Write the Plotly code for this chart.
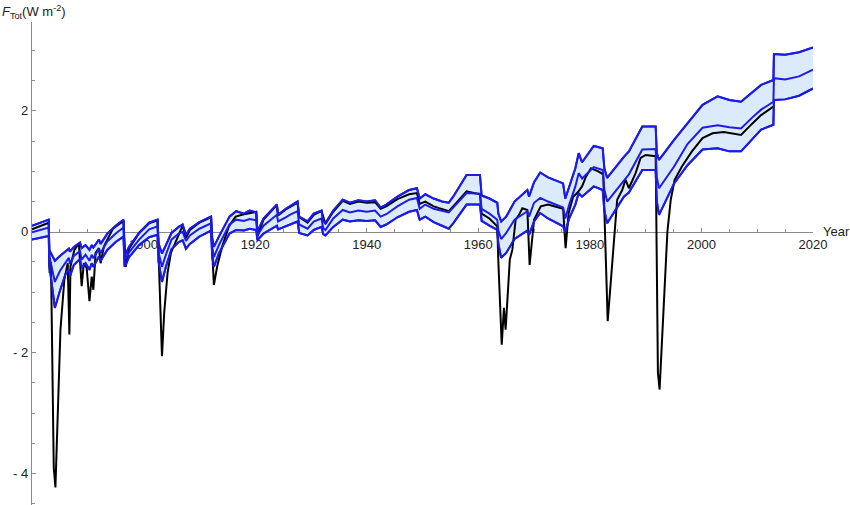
import plotly.graph_objects as go

# ---------------- data ----------------
years_band = [
    1880.0, 1881.5, 1883.0, 1883.1, 1884.1, 1885.0, 1886.0, 1886.6, 1886.8, 1887.5,
    1888.6, 1888.9, 1889.6, 1890.3, 1890.7, 1891.0, 1892.0, 1892.3, 1893.5, 1895.0,
    1896.4, 1896.6, 1897.4, 1899.2, 1901.0, 1902.5, 1902.7, 1903.3, 1904.0, 1905.0,
    1906.3, 1907.0, 1907.6, 1908.3, 1910.0, 1912.1, 1912.3, 1912.6, 1913.5, 1915.4,
    1916.6, 1918.0, 1919.0, 1920.2, 1920.4, 1921.5, 1923.9, 1924.1, 1925.5, 1926.2,
    1927.6, 1927.9, 1929.4, 1930.5, 1931.9, 1932.2, 1932.6, 1934.0, 1935.7, 1937.0,
    1938.5, 1940.0, 1941.5, 1942.5, 1943.5, 1945.5, 1947.6, 1949.0, 1949.5, 1950.5,
    1952.0, 1953.5, 1954.7, 1955.5, 1957.9, 1960.3, 1960.6, 1962.0, 1963.4, 1963.6,
    1964.1, 1965.0, 1966.5, 1968.8, 1969.1, 1970.0, 1971.1, 1972.5, 1975.2, 1975.6,
    1976.3, 1977.4, 1978.0, 1978.6, 1980.7, 1982.3, 1982.6, 1983.1, 1986.1, 1987.0,
    1989.4, 1991.8, 1992.0, 1992.4, 1995.1, 1997.5, 2000.2, 2002.9, 2005.0, 2007.1,
    2009.0, 2010.7, 2012.9, 2013.0, 2015.0, 2017.5, 2020.0,
]
upper = [
    0.10, 0.15, 0.20, -0.30, -0.48, -0.40, -0.32, -0.28, -0.33, -0.25,
    -0.18, -0.27, -0.22, -0.30, -0.22, -0.26, -0.13, -0.20, -0.03, 0.10,
    0.20, -0.40, -0.25, -0.02, 0.15, 0.20, -0.20, -0.36, -0.22, -0.02,
    0.08, 0.12, -0.05, 0.05, 0.16, 0.25, -0.10, -0.25, -0.08, 0.25,
    0.34, 0.30, 0.35, 0.32, 0.00, 0.22, 0.45, 0.28, 0.38, 0.42,
    0.50, 0.25, 0.17, 0.30, 0.35, 0.18, 0.14, 0.35, 0.53, 0.48,
    0.52, 0.50, 0.52, 0.40, 0.45, 0.58, 0.69, 0.72, 0.55, 0.62,
    0.55, 0.50, 0.48, 0.58, 0.94, 0.94, 0.60, 0.55, 0.48, 0.30,
    0.17, 0.25, 0.50, 0.69, 0.58, 0.82, 0.98, 0.90, 0.80, 0.55,
    0.75, 1.05, 1.30, 1.15, 1.42, 1.38, 1.05, 0.89, 1.24, 1.33,
    1.74, 1.74, 1.30, 1.19, 1.52, 1.80, 2.10, 2.24, 2.18, 2.15,
    2.30, 2.43, 2.51, 2.94, 2.93, 2.97, 3.05,
]
middle = [
    -0.01, 0.03, 0.07, -0.40, -0.83, -0.65, -0.50, -0.43, -0.53, -0.40,
    -0.32, -0.46, -0.38, -0.48, -0.38, -0.44, -0.28, -0.35, -0.16, -0.03,
    0.07, -0.48, -0.34, -0.13, 0.04, 0.09, -0.35, -0.58, -0.38, -0.13,
    -0.03, 0.00, -0.15, -0.06, 0.05, 0.14, -0.25, -0.42, -0.22, 0.12,
    0.20, 0.18, 0.21, 0.19, -0.06, 0.10, 0.28, 0.17, 0.24, 0.28,
    0.34, 0.12, 0.05, 0.17, 0.22, 0.06, 0.03, 0.22, 0.36, 0.32,
    0.35, 0.33, 0.35, 0.25, 0.29, 0.42, 0.53, 0.56, 0.38, 0.45,
    0.38, 0.34, 0.32, 0.40, 0.64, 0.63, 0.38, 0.30, 0.20, 0.02,
    -0.12, -0.02, 0.20, 0.34, 0.25, 0.48, 0.56, 0.50, 0.40, 0.22,
    0.45, 0.75, 0.97, 0.88, 1.07, 1.02, 0.70, 0.50, 0.86, 0.95,
    1.36, 1.37, 0.90, 0.72, 1.08, 1.45, 1.72, 1.76, 1.73, 1.71,
    1.88, 2.02, 2.15, 2.54, 2.52, 2.57, 2.68,
]
lower = [
    -0.13, -0.10, -0.07, -0.55, -1.26, -0.98, -0.70, -0.62, -0.74, -0.55,
    -0.45, -0.60, -0.52, -0.63, -0.52, -0.58, -0.41, -0.48, -0.30, -0.17,
    -0.08, -0.58, -0.42, -0.22, -0.09, -0.05, -0.50, -0.83, -0.58, -0.29,
    -0.17, -0.14, -0.28, -0.20, -0.08, 0.02, -0.40, -0.58, -0.36, -0.03,
    0.03, 0.02, 0.05, 0.03, -0.14, -0.03, 0.10, 0.04, 0.09, 0.12,
    0.17, -0.02, -0.06, 0.03, 0.08, -0.04, -0.06, 0.08, 0.20, 0.17,
    0.19, 0.18, 0.19, 0.08, 0.12, 0.24, 0.33, 0.36, 0.20, 0.25,
    0.16, 0.10, 0.05, 0.14, 0.45, 0.45, 0.18, 0.10, 0.03, -0.20,
    -0.43, -0.35, -0.12, 0.02, -0.05, 0.17, 0.31, 0.22, 0.09, 0.00,
    0.22, 0.45, 0.64, 0.58, 0.75, 0.69, 0.35, 0.14, 0.58, 0.65,
    1.02, 1.02, 0.50, 0.28, 0.80, 1.10, 1.36, 1.38, 1.33, 1.33,
    1.52, 1.69, 1.77, 2.18, 2.19, 2.25, 2.37,
]

years_total = [
    1880.0, 1883.0, 1883.15, 1883.4, 1883.9, 1884.2, 1885.1, 1885.8, 1886.4, 1886.7,
    1886.9, 1887.6, 1888.4, 1888.9, 1889.3, 1889.8, 1890.3, 1890.7, 1891.0, 1891.4,
    1892.0, 1892.3, 1892.9, 1894.5, 1896.4, 1896.8, 1897.4, 1899.2, 1901.0, 1902.5,
    1902.7, 1903.3, 1903.7, 1904.3, 1904.9, 1906.1, 1907.0, 1907.6, 1908.3, 1910.0,
    1912.1, 1912.3, 1912.6, 1913.2, 1914.1, 1915.3, 1916.5, 1918.0, 1920.2, 1920.4,
    1921.5, 1923.9, 1924.1, 1925.5, 1927.6, 1927.9, 1929.4, 1930.5, 1931.9, 1932.6,
    1934.0, 1935.7, 1937.0, 1938.5, 1940.0, 1941.5, 1942.5, 1943.5, 1945.5, 1947.6,
    1949.0, 1949.5, 1950.5, 1952.0, 1953.5, 1954.7, 1955.5, 1957.9, 1960.3, 1960.6,
    1962.0, 1963.4, 1963.6, 1964.2, 1964.6, 1964.9, 1965.65, 1966.1, 1966.7, 1967.3,
    1967.9, 1968.8, 1969.2, 1970.0, 1971.2, 1972.5, 1975.2, 1975.65, 1976.2, 1977.0,
    1977.8, 1978.6, 1979.3, 1980.2, 1981.5, 1982.4, 1983.2, 1984.4, 1984.9, 1985.8,
    1986.4, 1987.0, 1988.2, 1989.1, 1990.0, 1991.8, 1992.2, 1992.5, 1993.3, 1993.9,
    1994.5, 1995.2, 1996.5, 1998.3, 2000.2, 2002.0, 2004.0, 2007.1, 2009.0, 2010.7,
    2012.9,
]
total = [
    0.04, 0.15, -0.68, -0.50, -3.90, -4.23, -1.62, -0.79, -0.52, -1.70,
    -0.57, -0.30, -0.19, -0.90, -0.52, -0.60, -1.15, -0.74, -0.96, -0.35,
    -0.27, -0.52, -0.24, 0.05, 0.18, -0.58, -0.28, -0.02, 0.14, 0.19,
    -0.40, -2.06, -1.34, -0.68, -0.35, -0.08, 0.10, -0.10, 0.03, 0.15,
    0.24, -0.30, -0.88, -0.57, -0.24, 0.09, 0.25, 0.29, 0.33, -0.08,
    0.20, 0.44, 0.27, 0.37, 0.48, 0.24, 0.15, 0.28, 0.34, 0.13,
    0.33, 0.51, 0.46, 0.50, 0.48, 0.49, 0.38, 0.42, 0.54, 0.62,
    0.64, 0.46, 0.50, 0.42, 0.38, 0.34, 0.42, 0.67, 0.62, 0.30,
    0.22, 0.09, -0.50, -1.87, -1.26, -1.62, -0.46, -0.30, 0.20, 0.28,
    0.39, 0.36, -0.55, 0.20, 0.42, 0.45, 0.38, -0.27, 0.31, 0.58,
    0.65, 0.75, 0.91, 1.05, 1.00, 0.95, -1.48, 0.00, 0.53, 0.69,
    0.86, 0.72, 0.97, 1.22, 1.27, 1.25, -2.33, -2.61, -1.12, 0.00,
    0.53, 0.86, 1.08, 1.33, 1.55, 1.63, 1.65, 1.60, 1.78, 1.93,
    2.07,
]

x_range = [1880, 2020]
y_range = [-4.52, 3.47]
x_major = [1900, 1920, 1940, 1960, 1980, 2000, 2020]
y_major = [-4, -2, 0, 2]
y_major_text = ["- 4", "- 2", "0", "2"]

# ---------------- figure ----------------
BLUE = "#1c1ce6"
fig = go.Figure()
fig.add_trace(go.Scatter(x=years_band, y=upper, mode="lines",
                         line=dict(color=BLUE, width=2), hoverinfo="skip"))
fig.add_trace(go.Scatter(x=years_band, y=lower, mode="lines", fill="tonexty",
                         fillcolor="#dcebfb", line=dict(color=BLUE, width=2),
                         hoverinfo="skip"))
fig.add_trace(go.Scatter(x=years_total, y=total, mode="lines",
                         line=dict(color="black", width=2)))
fig.add_trace(go.Scatter(x=years_band, y=middle, mode="lines",
                         line=dict(color=BLUE, width=2)))
fig.add_trace(go.Scatter(x=years_band, y=upper, mode="lines",
                         line=dict(color=BLUE, width=2), hoverinfo="skip"))
fig.add_trace(go.Scatter(x=years_band, y=lower, mode="lines",
                         line=dict(color=BLUE, width=2), hoverinfo="skip"))

zero_pos = (0 - y_range[0]) / (y_range[1] - y_range[0])
AX = "#8a8a8a"
fig.update_layout(
    width=850, height=505,
    margin=dict(l=32, r=37, t=22, b=0, autoexpand=False),
    paper_bgcolor="white", plot_bgcolor="white",
    showlegend=False,
    font=dict(family="Liberation Sans, Arial, sans-serif", size=13, color="#222"),
    xaxis=dict(range=x_range, showgrid=False, zeroline=False, automargin=False,
               showline=True, linecolor=AX, linewidth=1.3,
               anchor="free", position=zero_pos,
               tickmode="array", tickvals=x_major,
               ticks="inside", ticklen=4, tickcolor=AX, tickwidth=1,
               minor=dict(tickmode="linear", tick0=1880, dtick=5,
                          ticks="inside", ticklen=2.5, tickcolor=AX),
               layer="below traces"),
    yaxis=dict(range=y_range, showgrid=False, zeroline=False, automargin=False,
               showline=True, linecolor=AX, linewidth=1.3,
               tickmode="array", tickvals=y_major, ticktext=y_major_text,
               ticks="inside", ticklen=4, tickcolor=AX, tickwidth=1,
               minor=dict(tickmode="linear", tick0=0, dtick=0.5,
                          ticks="inside", ticklen=2.5, tickcolor=AX),
               layer="below traces"),
    annotations=[
        dict(text="<i>F</i><sub>Tot</sub>(W m<sup>-2</sup>)", xref="paper", yref="paper",
             x=-32 / 781, y=1 + 10 / 483, xanchor="left", yanchor="middle",
             showarrow=False, font=dict(size=13, color="#222")),
        dict(text="Year", xref="paper", yref="paper",
             x=1 + 8 / 781, y=zero_pos, xanchor="left", yanchor="middle",
             showarrow=False, font=dict(size=13, color="#222")),
    ],
)

fig.write_html(
    "out.html",
    config={"displayModeBar": False},
    post_script="document.body.style.margin='0';document.body.style.padding='0';",
)
